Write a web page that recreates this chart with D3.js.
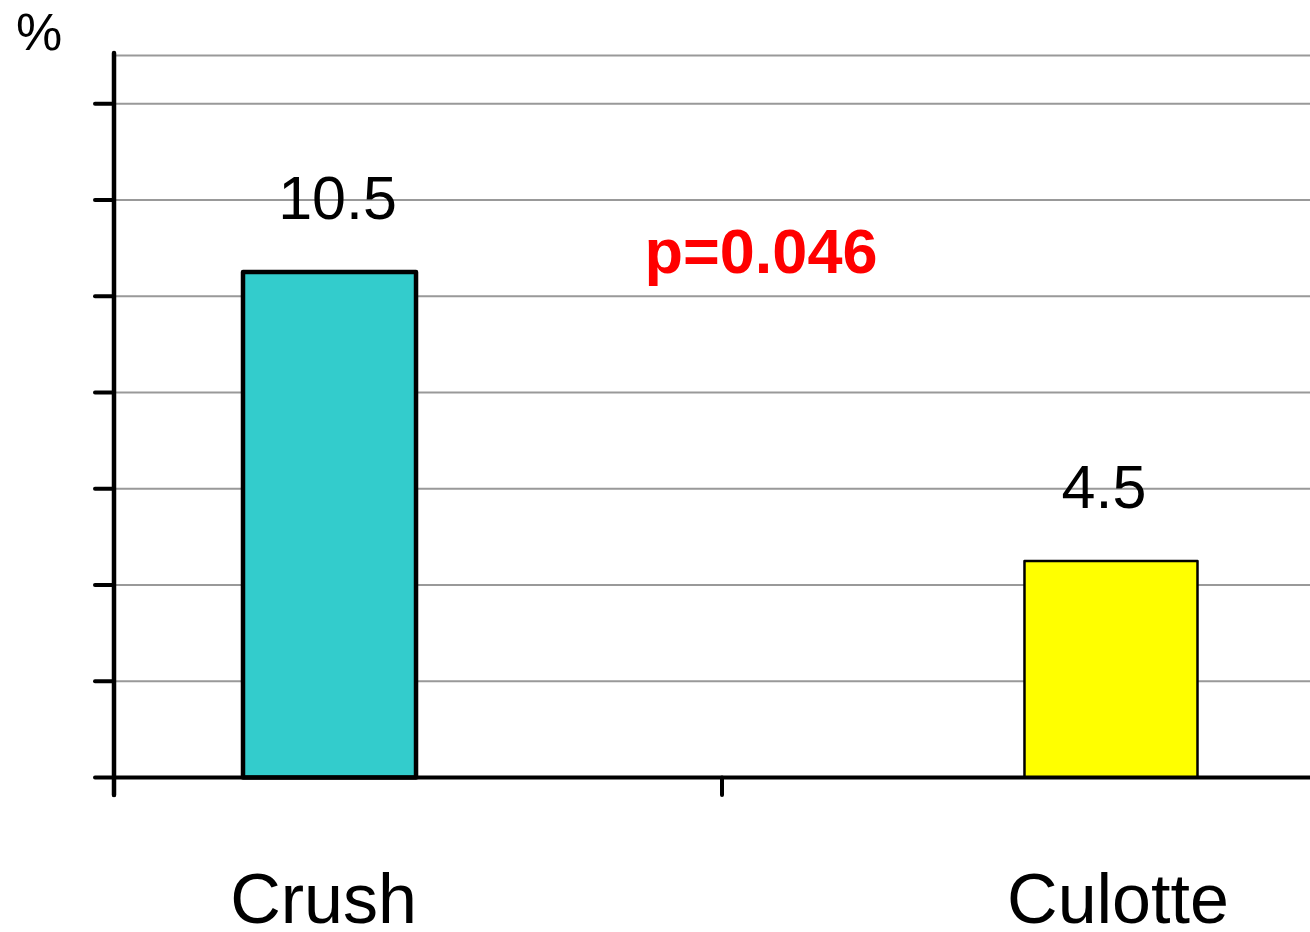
<!DOCTYPE html>
<html>
<head>
<meta charset="utf-8">
<script src="https://cdn.jsdelivr.net/npm/d3@7"></script>
<style>
  html, body { margin: 0; padding: 0; background: #fff; }
  svg { display: block; font-family: "Liberation Sans", Arial, sans-serif; }
</style>
</head>
<body>
<svg id="chart" width="1310" height="932"></svg>
<script>
// Restenosis rate by bifurcation stenting technique
const categories = ["Crush", "Culotte"];
const values = [10.5, 4.5];
const barColors = ["#33CCCC", "#FFFF00"];
const barStrokes = [4.5, 2.5];
const yTicks = [0, 2, 4, 6, 8, 10, 12, 14];
const yGrid = [2, 4, 6, 8, 10, 12, 14, 15];
const pValueLabel = "p=0.046";
const yUnit = "%";

const svg = d3.select("#chart");
const W = 1310;

const axisX = 114;
const baseY = 777.5;

const y = d3.scaleLinear().domain([0, 15]).range([baseY, 55.5]);

// Category slots along the x axis; ticks fall on slot boundaries
const xSlot = d3.scaleBand().domain(categories).range([axisX, axisX + 2 * 608]).padding(0);

// Bar placement
const xBar = d3.scaleBand().domain(categories).range([243, 1197.5])
  .paddingInner(0.7786).paddingOuter(0);

// Gridlines
svg.append("g").selectAll("line").data(yGrid).join("line")
  .attr("x1", axisX).attr("x2", W)
  .attr("y1", d => y(d)).attr("y2", d => y(d))
  .attr("stroke", "#999").attr("stroke-width", 2);

// Bars
svg.append("g").selectAll("rect").data(categories).join("rect")
  .attr("x", d => xBar(d))
  .attr("y", (d, i) => y(values[i]))
  .attr("width", xBar.bandwidth())
  .attr("height", (d, i) => y(0) - y(values[i]))
  .attr("fill", (d, i) => barColors[i])
  .attr("stroke", "#000")
  .attr("stroke-width", (d, i) => barStrokes[i])
  .attr("stroke-linejoin", "round");

// Y axis
svg.append("line")
  .attr("x1", axisX).attr("x2", axisX)
  .attr("y1", 53).attr("y2", 795)
  .attr("stroke", "#000").attr("stroke-width", 4.5).attr("stroke-linecap", "round");
svg.append("g").selectAll("line").data(yTicks).join("line")
  .attr("x1", 95).attr("x2", axisX)
  .attr("y1", d => y(d)).attr("y2", d => y(d))
  .attr("stroke", "#000").attr("stroke-width", 4).attr("stroke-linecap", "round");

// X axis
svg.append("line")
  .attr("x1", axisX).attr("x2", W)
  .attr("y1", baseY).attr("y2", baseY)
  .attr("stroke", "#000").attr("stroke-width", 4);
svg.append("g").selectAll("line").data(categories).join("line")
  .attr("x1", d => xSlot(d)).attr("x2", d => xSlot(d))
  .attr("y1", baseY).attr("y2", 795)
  .attr("stroke", "#000").attr("stroke-width", 4).attr("stroke-linecap", "round");

// Value labels
const valueNudge = [8, -7];
svg.append("g").selectAll("text").data(categories).join("text")
  .attr("x", (d, i) => xBar(d) + xBar.bandwidth() / 2 + valueNudge[i])
  .attr("y", (d, i) => y(values[i]) - 53)
  .attr("text-anchor", "middle")
  .attr("font-size", 61)
  .attr("fill", "#000")
  .text((d, i) => values[i]);

// Category labels
const catNudge = [-6, 7];
svg.append("g").selectAll("text").data(categories).join("text")
  .attr("x", (d, i) => xBar(d) + xBar.bandwidth() / 2 + catNudge[i])
  .attr("y", 923)
  .attr("text-anchor", "middle")
  .attr("font-size", 70)
  .attr("fill", "#000")
  .text(d => d);

// Significance annotation
svg.append("text")
  .attr("x", 761).attr("y", 273)
  .attr("text-anchor", "middle")
  .attr("font-size", 63).attr("font-weight", "bold")
  .attr("fill", "#FF0000")
  .text(pValueLabel);

// Unit label
svg.append("text")
  .attr("x", 39).attr("y", 50)
  .attr("text-anchor", "middle")
  .attr("font-size", 52)
  .attr("fill", "#000")
  .text(yUnit);
</script>
</body>
</html>
